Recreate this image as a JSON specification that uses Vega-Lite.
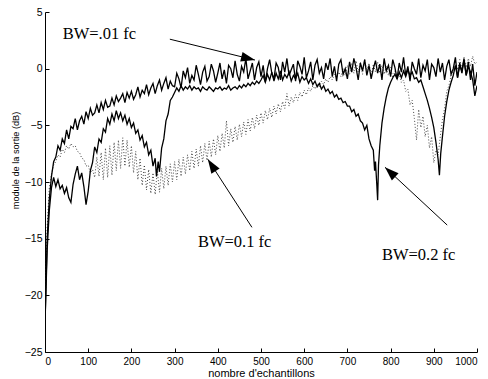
{
  "$schema": "https://vega.github.io/schema/vega-lite/v6.json",
  "width": 432,
  "height": 340,
  "autosize": {"type": "none"},
  "padding": {"left": 45, "top": 12, "right": 11, "bottom": 27},
  "background": "white",
  "config": {
    "view": {"stroke": null},
    "axis": {
      "grid": false,
      "domainColor": "black",
      "domainWidth": 1,
      "tickColor": "black",
      "tickWidth": 1,
      "tickSize": -4,
      "labelFont": "Liberation Sans",
      "labelFontSize": 10.5,
      "labelColor": "black",
      "titleFont": "Liberation Sans",
      "titleFontWeight": "normal",
      "titleColor": "black"
    }
  },
  "datasets": {
    "T": [
      {"x":0,"y":-22.5},{"x":5,"y":-15},{"x":10,"y":-11.5},{"x":15,"y":-9.5},{"x":20,"y":-8.2},{"x":25,"y":-7.8},{"x":30,"y":-6.8},{"x":35,"y":-7.2},{"x":40,"y":-6.2},{"x":45,"y":-6.6},
      {"x":50,"y":-5.4},{"x":55,"y":-6.2},{"x":60,"y":-5.1},{"x":65,"y":-5.3},{"x":70,"y":-4.4},{"x":75,"y":-5.4},{"x":80,"y":-4.6},{"x":85,"y":-4.2},{"x":90,"y":-4.9},{"x":95,"y":-3.8},
      {"x":100,"y":-4.4},{"x":105,"y":-3.5},{"x":110,"y":-4.1},{"x":115,"y":-3.9},{"x":120,"y":-3.2},{"x":125,"y":-3.9},{"x":130,"y":-3.0},{"x":135,"y":-3.6},{"x":140,"y":-2.8},{"x":145,"y":-3.4},
      {"x":150,"y":-3.3},{"x":155,"y":-2.6},{"x":160,"y":-3.2},{"x":165,"y":-2.4},{"x":170,"y":-2.9},{"x":175,"y":-2.6},{"x":180,"y":-2.2},{"x":185,"y":-3.0},{"x":190,"y":-2.1},{"x":195,"y":-2.6},
      {"x":200,"y":-2.0},{"x":205,"y":-2.7},{"x":210,"y":-2.3},{"x":215,"y":-1.6},{"x":220,"y":-2.5},{"x":225,"y":-1.9},{"x":230,"y":-2.2},{"x":235,"y":-1.4},{"x":240,"y":-2.3},{"x":245,"y":-1.7},
      {"x":250,"y":-1.3},{"x":255,"y":-2.2},{"x":260,"y":-1.5},{"x":265,"y":-1.0},{"x":270,"y":-1.9},{"x":275,"y":-1.3},{"x":280,"y":-0.8},{"x":285,"y":-1.8},{"x":290,"y":-1.1},{"x":295,"y":-1.5},
      {"x":300,"y":-1.6},{"x":305,"y":-0.4},{"x":310,"y":-0.9},{"x":315,"y":-1.7},{"x":320,"y":-0.2},{"x":325,"y":-0.8},{"x":330,"y":0.1},{"x":335,"y":-1.3},{"x":340,"y":-0.6},{"x":345,"y":-1.0},
      {"x":350,"y":0.3},{"x":355,"y":-0.5},{"x":360,"y":-1.4},{"x":365,"y":-0.3},{"x":370,"y":0.2},{"x":375,"y":-1.1},{"x":380,"y":-0.7},{"x":385,"y":0.4},{"x":390,"y":-0.2},{"x":395,"y":-1.2},
      {"x":400,"y":-0.4},{"x":405,"y":0.5},{"x":410,"y":-0.9},{"x":415,"y":-0.1},{"x":420,"y":-1.3},{"x":425,"y":0.3},{"x":430,"y":0.0},{"x":435,"y":-0.8},{"x":440,"y":0.7},{"x":445,"y":-0.5},
      {"x":450,"y":-1.1},{"x":455,"y":0.2},{"x":460,"y":-0.3},{"x":465,"y":0.9},{"x":470,"y":-0.9},{"x":475,"y":-0.2},{"x":480,"y":0.5},{"x":485,"y":-1.0},{"x":490,"y":0.1},{"x":495,"y":0.6},
      {"x":500,"y":-0.7},{"x":505,"y":0.3},{"x":510,"y":-1.2},{"x":515,"y":0.0},{"x":520,"y":0.8},{"x":525,"y":-0.4},{"x":530,"y":-0.9},{"x":535,"y":0.5},{"x":540,"y":0.1},{"x":545,"y":-1.0},
      {"x":550,"y":0.6},{"x":555,"y":-0.3},{"x":560,"y":0.9},{"x":565,"y":-0.6},{"x":570,"y":-0.1},{"x":575,"y":0.4},{"x":580,"y":-1.1},{"x":585,"y":0.7},{"x":590,"y":0.2},{"x":595,"y":-0.5},
      {"x":600,"y":1.0},{"x":605,"y":-0.8},{"x":610,"y":-0.2},{"x":615,"y":0.6},{"x":620,"y":-1.0},{"x":625,"y":0.3},{"x":630,"y":0.8},{"x":635,"y":-0.4},{"x":640,"y":0.1},{"x":645,"y":-0.9},
      {"x":650,"y":0.5},{"x":655,"y":-0.1},{"x":660,"y":0.9},{"x":665,"y":-0.7},{"x":670,"y":0.2},{"x":675,"y":-1.1},{"x":680,"y":0.4},{"x":685,"y":0.8},{"x":690,"y":-0.5},{"x":695,"y":0.0},
      {"x":700,"y":-0.9},{"x":705,"y":0.6},{"x":710,"y":-0.3},{"x":715,"y":0.9},{"x":720,"y":0.1},{"x":725,"y":-1.0},{"x":730,"y":0.5},{"x":735,"y":-0.2},{"x":740,"y":0.8},{"x":745,"y":-0.6},
      {"x":750,"y":0.3},{"x":755,"y":-0.9},{"x":760,"y":0.0},{"x":765,"y":0.7},{"x":770,"y":-0.4},{"x":775,"y":0.4},{"x":780,"y":-1.0},{"x":785,"y":0.9},{"x":790,"y":-0.2},{"x":795,"y":0.3},
      {"x":800,"y":-0.7},{"x":805,"y":0.8},{"x":810,"y":0.1},{"x":815,"y":-0.9},{"x":820,"y":0.5},{"x":825,"y":-0.3},{"x":830,"y":1.0},{"x":835,"y":-0.6},{"x":840,"y":0.2},{"x":845,"y":-1.1},
      {"x":850,"y":0.6},{"x":855,"y":0.0},{"x":860,"y":-0.5},{"x":865,"y":0.9},{"x":870,"y":-0.8},{"x":875,"y":0.3},{"x":880,"y":-0.2},{"x":885,"y":0.8},{"x":890,"y":-1.0},{"x":895,"y":0.4},
      {"x":900,"y":0.1},{"x":905,"y":-0.7},{"x":910,"y":0.9},{"x":915,"y":-0.3},{"x":920,"y":0.5},{"x":925,"y":-1.0},{"x":930,"y":0.2},{"x":935,"y":0.8},{"x":940,"y":-0.5},{"x":945,"y":0.0},
      {"x":950,"y":1.0},{"x":955,"y":-0.8},{"x":960,"y":0.3},{"x":965,"y":-0.2},{"x":970,"y":0.9},{"x":975,"y":-0.6},{"x":980,"y":0.6},{"x":985,"y":-1.0},{"x":990,"y":0.4},{"x":995,"y":-1.5},
      {"x":1000,"y":-0.3}
    ],
    "S": [
      {"x":0,"y":-22.5},{"x":5,"y":-16},{"x":10,"y":-12.5},{"x":15,"y":-10.5},{"x":20,"y":-9.6},{"x":25,"y":-10.4},{"x":30,"y":-9.8},{"x":35,"y":-10.6},{"x":40,"y":-10.3},{"x":45,"y":-11.0},
      {"x":50,"y":-10.5},{"x":55,"y":-11.4},{"x":60,"y":-11.8},{"x":65,"y":-10.2},{"x":70,"y":-9.3},{"x":75,"y":-8.6},{"x":80,"y":-9.8},{"x":85,"y":-9.2},{"x":90,"y":-10.4},{"x":95,"y":-12.0},
      {"x":100,"y":-10.8},{"x":105,"y":-9.0},{"x":110,"y":-8.3},{"x":115,"y":-6.9},{"x":120,"y":-7.4},{"x":125,"y":-6.2},{"x":130,"y":-6.5},{"x":135,"y":-5.3},{"x":140,"y":-5.6},{"x":145,"y":-4.4},
      {"x":150,"y":-4.9},{"x":155,"y":-4.0},{"x":160,"y":-4.6},{"x":165,"y":-3.7},{"x":170,"y":-4.4},{"x":175,"y":-3.9},{"x":180,"y":-4.6},{"x":185,"y":-4.1},{"x":190,"y":-4.9},{"x":195,"y":-4.4},
      {"x":200,"y":-5.2},{"x":205,"y":-4.8},{"x":210,"y":-5.7},{"x":215,"y":-5.4},{"x":220,"y":-6.3},{"x":225,"y":-5.9},{"x":230,"y":-6.9},{"x":235,"y":-6.5},{"x":240,"y":-7.6},{"x":245,"y":-7.2},
      {"x":250,"y":-8.6},{"x":255,"y":-7.9},{"x":258,"y":-9.5},{"x":262,"y":-8.2},{"x":265,"y":-9.1},{"x":270,"y":-7.0},{"x":275,"y":-6.2},{"x":280,"y":-4.6},{"x":285,"y":-4.0},{"x":290,"y":-2.8},{"x":295,"y":-2.5},
      {"x":300,"y":-2.1},{"x":305,"y":-1.7},{"x":310,"y":-2.0},{"x":315,"y":-1.5},{"x":320,"y":-1.9},{"x":325,"y":-1.6},{"x":330,"y":-1.8},{"x":335,"y":-1.5},{"x":340,"y":-1.9},{"x":345,"y":-1.6},
      {"x":350,"y":-1.8},{"x":355,"y":-1.7},{"x":360,"y":-2.0},{"x":365,"y":-1.6},{"x":370,"y":-1.8},{"x":375,"y":-1.9},{"x":380,"y":-1.6},{"x":385,"y":-1.8},{"x":390,"y":-2.0},{"x":395,"y":-1.7},
      {"x":400,"y":-1.8},{"x":405,"y":-1.6},{"x":410,"y":-1.9},{"x":415,"y":-1.7},{"x":420,"y":-1.8},{"x":425,"y":-1.5},{"x":430,"y":-1.9},{"x":435,"y":-1.7},{"x":440,"y":-1.6},{"x":445,"y":-1.8},
      {"x":450,"y":-1.5},{"x":455,"y":-1.7},{"x":460,"y":-1.4},{"x":465,"y":-1.6},{"x":470,"y":-1.3},{"x":475,"y":-1.5},{"x":480,"y":-1.2},{"x":485,"y":-1.4},{"x":490,"y":-1.1},{"x":495,"y":-1.3},
      {"x":500,"y":-1.0},{"x":505,"y":-0.6},{"x":510,"y":-1.2},{"x":515,"y":-0.5},{"x":520,"y":-1.0},{"x":525,"y":-0.3},{"x":530,"y":-1.1},{"x":535,"y":-0.4},{"x":540,"y":-0.9},{"x":545,"y":-0.2},
      {"x":550,"y":-1.0},{"x":555,"y":-0.5},{"x":560,"y":-0.8},{"x":565,"y":-0.3},{"x":570,"y":-1.1},{"x":575,"y":-0.6},{"x":580,"y":-0.9},{"x":585,"y":-0.4},{"x":590,"y":-1.2},{"x":595,"y":-0.7},
      {"x":600,"y":-1.0},{"x":605,"y":-0.8},{"x":610,"y":-1.3},{"x":615,"y":-0.9},{"x":620,"y":-1.4},{"x":625,"y":-1.1},{"x":630,"y":-1.6},{"x":635,"y":-1.3},{"x":640,"y":-1.8},{"x":645,"y":-1.5},
      {"x":650,"y":-2.0},{"x":655,"y":-1.8},{"x":660,"y":-2.2},{"x":665,"y":-2.0},{"x":670,"y":-2.5},{"x":675,"y":-2.3},{"x":680,"y":-2.7},{"x":685,"y":-2.6},{"x":690,"y":-3.0},{"x":695,"y":-2.9},
      {"x":700,"y":-3.3},{"x":705,"y":-3.3},{"x":710,"y":-3.8},{"x":715,"y":-3.6},{"x":720,"y":-4.2},{"x":725,"y":-4.0},{"x":730,"y":-4.6},{"x":735,"y":-4.8},{"x":740,"y":-5.4},{"x":745,"y":-5.0},
      {"x":750,"y":-6.2},{"x":755,"y":-6.8},{"x":760,"y":-7.2},{"x":763,"y":-9.0},{"x":765,"y":-8.2},{"x":768,"y":-10.2},{"x":770,"y":-11.6},{"x":772,"y":-8.5},{"x":775,"y":-6.8},{"x":780,"y":-4.8},{"x":785,"y":-3.5},{"x":790,"y":-2.5},{"x":795,"y":-1.7},
      {"x":800,"y":-1.2},{"x":805,"y":-0.8},{"x":810,"y":-0.5},{"x":815,"y":-0.9},{"x":820,"y":-0.3},{"x":825,"y":-0.8},{"x":830,"y":-0.2},{"x":835,"y":-0.7},{"x":840,"y":-0.1},{"x":845,"y":-0.6},
      {"x":850,"y":-0.3},{"x":855,"y":-0.9},{"x":860,"y":-0.8},{"x":865,"y":-1.2},{"x":870,"y":-1.0},{"x":875,"y":-1.6},{"x":880,"y":-2.2},{"x":885,"y":-2.8},{"x":890,"y":-3.5},{"x":895,"y":-4.3},
      {"x":900,"y":-5.2},{"x":905,"y":-6.5},{"x":910,"y":-8.0},{"x":913,"y":-9.4},{"x":916,"y":-7.5},{"x":920,"y":-6.0},{"x":925,"y":-4.2},{"x":930,"y":-2.9},{"x":935,"y":-1.9},{"x":940,"y":-1.2},{"x":945,"y":-0.6},
      {"x":950,"y":0.3},{"x":955,"y":-0.8},{"x":960,"y":0.5},{"x":965,"y":-0.4},{"x":970,"y":0.7},{"x":975,"y":-0.6},{"x":980,"y":0.2},{"x":985,"y":-0.3},{"x":990,"y":-1.0},{"x":995,"y":-2.4},
      {"x":1000,"y":-1.5}
    ],
    "D": [
      {"x":0,"y":-22},{"x":5,"y":-14},{"x":10,"y":-10.5},{"x":15,"y":-9.3},{"x":20,"y":-8.5},{"x":25,"y":-8.2},{"x":30,"y":-7.6},{"x":35,"y":-7.8},{"x":40,"y":-7.1},{"x":45,"y":-7.4},
      {"x":50,"y":-6.8},{"x":55,"y":-7.1},{"x":60,"y":-6.6},{"x":65,"y":-6.9},{"x":70,"y":-6.8},{"x":75,"y":-7.3},{"x":80,"y":-7.4},{"x":85,"y":-7.9},{"x":90,"y":-8.0},{"x":95,"y":-8.6},
      {"x":100,"y":-8.5},{"x":105,"y":-9.2},{"x":110,"y":-8.9},{"x":115,"y":-9.6},{"x":120,"y":-7.8},{"x":125,"y":-9.5},{"x":130,"y":-7.4},{"x":135,"y":-9.8},{"x":140,"y":-7.0},{"x":145,"y":-9.6},
      {"x":150,"y":-6.8},{"x":155,"y":-9.4},{"x":160,"y":-6.5},{"x":165,"y":-9.0},{"x":170,"y":-6.3},{"x":175,"y":-8.8},{"x":180,"y":-6.1},{"x":185,"y":-8.6},{"x":190,"y":-6.3},{"x":195,"y":-8.7},
      {"x":200,"y":-6.8},{"x":205,"y":-9.2},{"x":210,"y":-7.3},{"x":215,"y":-9.8},{"x":220,"y":-7.9},{"x":225,"y":-10.3},{"x":230,"y":-8.5},{"x":235,"y":-10.7},{"x":240,"y":-8.9},{"x":245,"y":-11.0},
      {"x":250,"y":-9.2},{"x":255,"y":-11.1},{"x":260,"y":-9.0},{"x":265,"y":-10.9},{"x":270,"y":-8.8},{"x":275,"y":-10.6},{"x":280,"y":-8.6},{"x":285,"y":-10.3},{"x":290,"y":-8.4},{"x":295,"y":-10.0},
      {"x":300,"y":-8.2},{"x":305,"y":-9.8},{"x":310,"y":-8.0},{"x":315,"y":-9.5},{"x":320,"y":-7.8},{"x":325,"y":-9.3},{"x":330,"y":-7.6},{"x":335,"y":-9.0},{"x":340,"y":-7.3},{"x":345,"y":-8.8},
      {"x":350,"y":-7.1},{"x":355,"y":-8.6},{"x":360,"y":-6.8},{"x":365,"y":-8.3},{"x":370,"y":-6.6},{"x":375,"y":-8.1},{"x":380,"y":-6.4},{"x":385,"y":-7.8},{"x":390,"y":-6.2},{"x":395,"y":-7.6},
      {"x":400,"y":-5.9},{"x":405,"y":-7.3},{"x":410,"y":-5.7},{"x":415,"y":-7.0},{"x":420,"y":-4.6},{"x":425,"y":-6.8},{"x":430,"y":-5.3},{"x":435,"y":-6.5},{"x":440,"y":-5.1},{"x":445,"y":-6.3},
      {"x":450,"y":-4.9},{"x":455,"y":-6.0},{"x":460,"y":-4.7},{"x":465,"y":-5.8},{"x":470,"y":-4.5},{"x":475,"y":-5.5},{"x":480,"y":-4.3},{"x":485,"y":-5.3},{"x":490,"y":-4.1},{"x":495,"y":-5.0},
      {"x":500,"y":-3.9},{"x":505,"y":-4.8},{"x":510,"y":-3.7},{"x":515,"y":-4.5},{"x":520,"y":-3.5},{"x":525,"y":-4.3},{"x":530,"y":-3.3},{"x":535,"y":-4.0},{"x":540,"y":-3.1},{"x":545,"y":-3.8},
      {"x":550,"y":-2.9},{"x":555,"y":-3.5},{"x":560,"y":-2.2},{"x":565,"y":-3.3},{"x":570,"y":-2.5},{"x":575,"y":-3.0},{"x":580,"y":-2.3},{"x":585,"y":-2.8},{"x":590,"y":-2.1},{"x":595,"y":-2.5},
      {"x":600,"y":-1.9},{"x":605,"y":-2.3},{"x":610,"y":-1.7},{"x":615,"y":-2.0},{"x":620,"y":-1.5},{"x":625,"y":-1.8},{"x":630,"y":-1.3},{"x":635,"y":-1.6},{"x":640,"y":-1.1},{"x":645,"y":-1.4},
      {"x":650,"y":-0.9},{"x":655,"y":-1.2},{"x":660,"y":-0.7},{"x":665,"y":-1.0},{"x":670,"y":-0.5},{"x":675,"y":-0.8},{"x":680,"y":-0.3},{"x":685,"y":-0.7},{"x":690,"y":0.0},{"x":695,"y":-0.6},
      {"x":700,"y":0.3},{"x":705,"y":-0.5},{"x":710,"y":0.5},{"x":715,"y":-0.4},{"x":720,"y":0.7},{"x":725,"y":-0.3},{"x":730,"y":0.6},{"x":735,"y":-0.5},{"x":740,"y":0.8},{"x":745,"y":-0.2},
      {"x":750,"y":0.5},{"x":755,"y":-0.6},{"x":760,"y":0.4},{"x":765,"y":-0.3},{"x":770,"y":0.6},{"x":775,"y":-0.4},{"x":780,"y":0.3},{"x":785,"y":-0.5},{"x":790,"y":0.2},{"x":795,"y":-0.6},
      {"x":800,"y":0.1},{"x":805,"y":-0.8},{"x":810,"y":-0.2},{"x":815,"y":-0.9},{"x":820,"y":-0.5},{"x":825,"y":-1.2},{"x":830,"y":-1.0},{"x":835,"y":-2.0},{"x":840,"y":-1.8},{"x":845,"y":-3.2},
      {"x":850,"y":-2.8},{"x":855,"y":-4.4},{"x":860,"y":-6.3},{"x":865,"y":-3.6},{"x":870,"y":-5.2},{"x":875,"y":-4.2},{"x":880,"y":-6.0},{"x":885,"y":-5.0},{"x":890,"y":-7.0},{"x":895,"y":-6.0},
      {"x":900,"y":-8.3},{"x":905,"y":-7.2},{"x":910,"y":-7.6},{"x":915,"y":-6.0},{"x":920,"y":-4.5},{"x":925,"y":-3.5},{"x":930,"y":-2.0},{"x":935,"y":-1.5},{"x":940,"y":-0.6},{"x":945,"y":-0.2},
      {"x":950,"y":0.6},{"x":955,"y":-0.1},{"x":960,"y":0.8},{"x":965,"y":0.0},{"x":970,"y":1.0},{"x":975,"y":0.1},{"x":980,"y":0.9},{"x":985,"y":0.2},{"x":990,"y":1.1},{"x":995,"y":0.4},
      {"x":1000,"y":0.6}
    ],
    "labels": [
      {"label":"BW=.01 fc","x":41,"y":3.1},
      {"label":"BW=0.1 fc","x":354,"y":-15.3},
      {"label":"BW=0.2 fc","x":780,"y":-16.4}
    ],
    "arrows": [
      {"id":"a","x":289,"y":2.6,"x2":486,"y2":0.76},
      {"id":"b","x":479,"y":-14.0,"x2":377,"y2":-8.0},
      {"id":"c","x":931,"y":-13.8,"x2":787,"y2":-8.7}
    ]
  },
  "layer": [
    {
      "data": {"name": "D"},
      "mark": {"type": "line", "color": "#333", "strokeWidth": 0.9, "strokeDash": [1, 2], "clip": true},
      "encoding": {
        "x": {"field": "x", "type": "quantitative", "scale": {"domain": [0, 1000], "nice": false},
          "axis": {"values": [0,100,200,300,400,500,600,700,800,900,1000], "format": "d", "labelPadding": 8, "labelFontSize": 10, "title": "nombre d'echantillons", "titleFontSize": 11, "titleY": 24.5, "titleBaseline": "alphabetic"}},
        "y": {"field": "y", "type": "quantitative", "scale": {"domain": [-25, 5], "nice": false},
          "axis": {"values": [-25,-20,-15,-10,-5,0,5], "format": "d", "labelPadding": 7, "title": "module de la sortie (dB)", "titleFontSize": 9.2, "titlePadding": 4, "titleY": 148}}
      }
    },
    {
      "data": {"name": "S"},
      "mark": {"type": "line", "color": "black", "strokeWidth": 1.3, "clip": true},
      "encoding": {"x": {"field": "x", "type": "quantitative"}, "y": {"field": "y", "type": "quantitative"}}
    },
    {
      "data": {"name": "T"},
      "mark": {"type": "line", "color": "black", "strokeWidth": 1.3, "clip": true},
      "encoding": {"x": {"field": "x", "type": "quantitative"}, "y": {"field": "y", "type": "quantitative"}}
    },
    {
      "data": {"name": "arrows"},
      "mark": {"type": "rule", "color": "black", "strokeWidth": 1},
      "encoding": {
        "x": {"field": "x", "type": "quantitative"}, "y": {"field": "y", "type": "quantitative"},
        "x2": {"field": "x2"}, "y2": {"field": "y2"}
      }
    },
    {
      "data": {"name": "arrows"},
      "transform": [{"filter": "datum.id == 'a'"}],
      "mark": {"type": "point", "shape": "M0,0L-0.7,2L0.7,2Z", "filled": true, "color": "black", "opacity": 1, "size": 196, "angle": 104},
      "encoding": {"x": {"field": "x2", "type": "quantitative"}, "y": {"field": "y2", "type": "quantitative"}}
    },
    {
      "data": {"name": "arrows"},
      "transform": [{"filter": "datum.id == 'b'"}],
      "mark": {"type": "point", "shape": "M0,0L-0.7,2L0.7,2Z", "filled": true, "color": "black", "opacity": 1, "size": 196, "angle": 327},
      "encoding": {"x": {"field": "x2", "type": "quantitative"}, "y": {"field": "y2", "type": "quantitative"}}
    },
    {
      "data": {"name": "arrows"},
      "transform": [{"filter": "datum.id == 'c'"}],
      "mark": {"type": "point", "shape": "M0,0L-0.7,2L0.7,2Z", "filled": true, "color": "black", "opacity": 1, "size": 196, "angle": 313},
      "encoding": {"x": {"field": "x2", "type": "quantitative"}, "y": {"field": "y2", "type": "quantitative"}}
    },
    {
      "data": {"name": "labels"},
      "mark": {"type": "text", "font": "Liberation Serif", "fontSize": 16.5, "align": "left", "baseline": "middle", "color": "black"},
      "encoding": {
        "x": {"field": "x", "type": "quantitative"}, "y": {"field": "y", "type": "quantitative"},
        "text": {"field": "label"}
      }
    }
  ]
}
